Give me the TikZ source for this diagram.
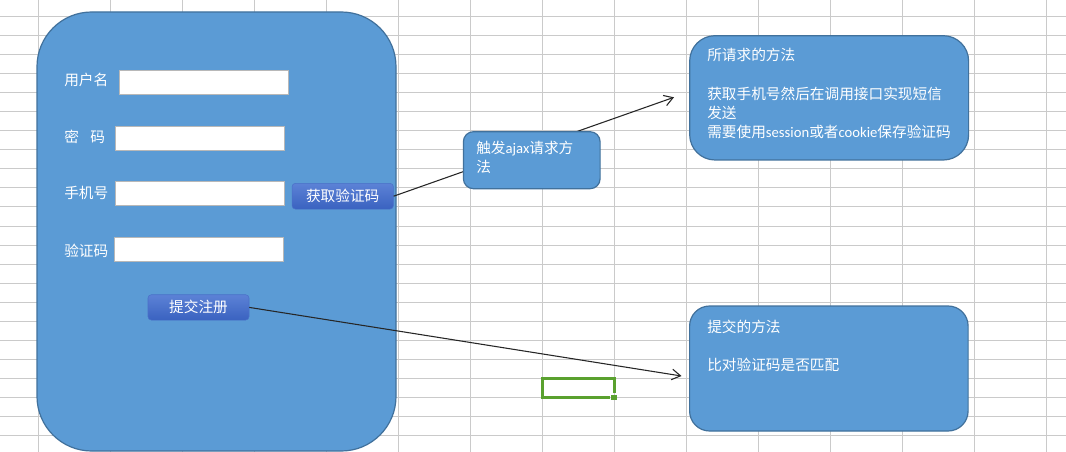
\documentclass[tikz,border=0pt]{standalone}
\usepackage{fontspec}
\setmainfont{Noto Sans CJK SC}
\newfontfamily\latf{Carlito}
\usetikzlibrary{arrows.meta}
\definecolor{gridc}{HTML}{CACACA}
\definecolor{boxfill}{HTML}{5B9BD5}
\definecolor{boxline}{HTML}{41719C}
\definecolor{fieldline}{HTML}{B8B8B8}
\definecolor{btntop}{HTML}{5C82D6}
\definecolor{btnbot}{HTML}{3A62C0}
\definecolor{btnline}{HTML}{4A70C8}
\definecolor{selgreen}{HTML}{5AA12F}
\begin{document}
\begin{tikzpicture}[x=0.75pt,y=-0.75pt,
  gridline/.style={draw=gridc, line width=0.75pt},
  panel/.style={draw=boxline, fill=boxfill, line width=0.9pt, inner sep=0pt},
  field/.style={draw=fieldline, fill=white, line width=1pt, inner sep=0pt},
  lbl/.style={text=white, inner sep=0pt, anchor=base west, font=\fontsize{11pt}{14.5pt}\selectfont},
  btn/.style={draw=btnline, top color=btntop, bottom color=btnbot, rounded corners=2.5pt, text=white, inner sep=0pt, font=\fontsize{11pt}{14.5pt}\selectfont},
  arr/.style={draw=black!85, line width=0.8pt, -{Straight Barb[length=6.5pt,width=8pt]}}
]
\useasboundingbox (0,0) rectangle (1066,452);
\fill[white] (0,0) rectangle (1066,452);
% spreadsheet grid
\foreach \i in {0,...,14} \draw[gridline] (38+72*\i,0) -- (38+72*\i,452);
\foreach \j in {0,...,22} \draw[gridline] (0,16.7+19.03*\j) -- (1066,16.7+19.03*\j);
% form panel
\node[panel, rounded corners=41pt, minimum width=359*0.75pt, minimum height=439*0.75pt] (form) at (216.5,231.5) {};
% labels
\node[lbl] (l1) at (64,86) {用户名};
\node[lbl] (l2) at (64,142.5) {密\hspace{0.78em}码};
\node[lbl] (l3) at (64,199) {手机号};
\node[lbl] (l4) at (64,257) {验证码};
% fields
\node[field, minimum width=169*0.75pt, minimum height=24*0.75pt] (f1) at (203.8,82.3) {};
\node[field, minimum width=169.4*0.75pt, minimum height=24*0.75pt] (f2) at (200,138.3) {};
\node[field, minimum width=169.4*0.75pt, minimum height=23.6*0.75pt] (f3) at (200,193.5) {};
\node[field, minimum width=169.4*0.75pt, minimum height=24.4*0.75pt] (f4) at (199,249.5) {};
% buttons
\node[btn, minimum width=101.3*0.75pt, minimum height=25.7*0.75pt] (b1) at (342.7,196.2) {获取验证码};
\node[btn, minimum width=101*0.75pt, minimum height=25.3*0.75pt] (b2) at (198.5,307.4) {提交注册};
% connectors
\coordinate (t1) at (674,97.3);
\coordinate (t2) at (681.5,376);
\draw[arr] (b1.east) -- (t1);
\draw[arr] (b2.east) -- (t2);
% ajax box
\node[panel, rounded corners=7.5pt, minimum width=136.7*0.75pt, minimum height=57*0.75pt] (ajax) at (531.75,160.2) {};
\node[lbl, align=left, font=\fontsize{11pt}{13.8pt}\selectfont] (ajaxt) at (476,172.2) {触发{\latf ajax}请求方\\法};
% request method box
\node[panel, rounded corners=19pt, minimum width=278.9*0.75pt, minimum height=124.3*0.75pt] (req) at (829.15,97.85) {};
\node[lbl, align=left] (reqt) at (707,137.8) {所请求的方法\\~\\获取手机号然后在调用接口实现短信\\发送\\需要使用{\latf session}或者{\latf cookie}保存验证码};
% submit method box
\node[panel, rounded corners=15pt, minimum width=278.5*0.75pt, minimum height=125*0.75pt] (sub) at (828.85,368.5) {};
\node[lbl, align=left, font=\fontsize{11pt}{14.1pt}\selectfont] (subt) at (707,370.5) {提交的方法\\~\\比对验证码是否匹配};
% selected cell
\draw[selgreen, line width=2.25pt] (614.8,393.3) -- (614.8,378.2) -- (542.5,378.2) -- (542.5,397.8) -- (610,397.8);
\fill[selgreen] (611.3,394.5) rectangle (616.8,399.8);
\end{tikzpicture}
\end{document}
